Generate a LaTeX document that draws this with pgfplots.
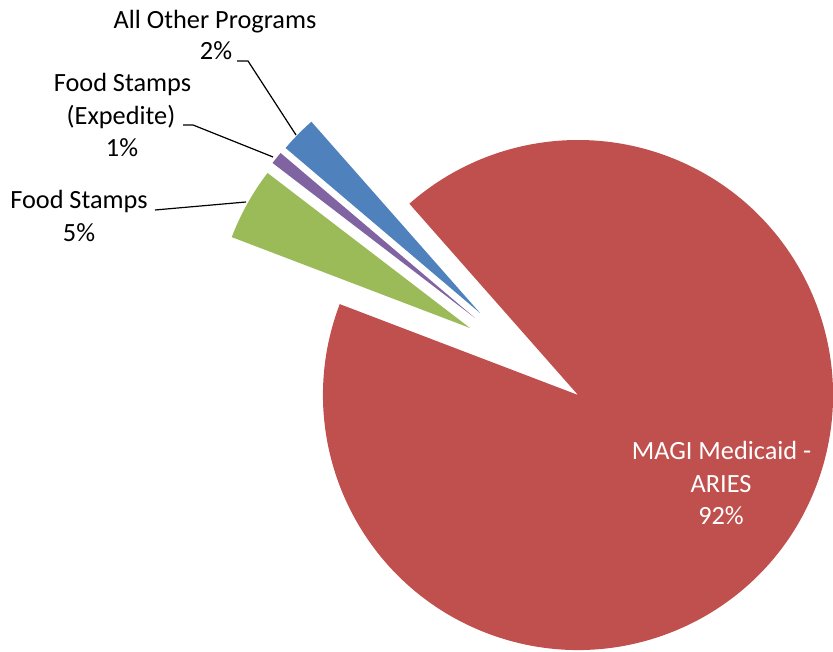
\documentclass[border=0pt]{standalone}
\usepackage{pgfplots}
\pgfplotsset{compat=1.18}
\usepackage{pgfplotstable}
\usepackage{fontspec}
\setmainfont{Carlito}

\definecolor{cRed}{HTML}{C0504D}
\definecolor{cGreen}{HTML}{9BBB59}
\definecolor{cPurple}{HTML}{8064A2}
\definecolor{cBlue}{HTML}{4F81BD}

% slices, counterclockwise from the start angle; tip = exploded centre (px coords, y up)
\pgfplotstableread{
name   value tipx tipy
blue   2.3   480  339
purple 0.8   475  334
green  4.6   470  324
red    92.3  578  257
}\slices

\def\startangle{131.4}
\def\rad{255}

% extract values into global macros
\pgfplotstablegetelem{0}{value}\of\slices \let\vA\pgfplotsretval%
\pgfplotstablegetelem{1}{value}\of\slices \let\vB\pgfplotsretval%
\pgfplotstablegetelem{2}{value}\of\slices \let\vC\pgfplotsretval%
\pgfplotstablegetelem{3}{value}\of\slices \let\vD\pgfplotsretval%
\pgfplotstablegetelem{0}{tipx}\of\slices \let\xA\pgfplotsretval%
\pgfplotstablegetelem{1}{tipx}\of\slices \let\xB\pgfplotsretval%
\pgfplotstablegetelem{2}{tipx}\of\slices \let\xC\pgfplotsretval%
\pgfplotstablegetelem{3}{tipx}\of\slices \let\xD\pgfplotsretval%
\pgfplotstablegetelem{0}{tipy}\of\slices \let\yA\pgfplotsretval%
\pgfplotstablegetelem{1}{tipy}\of\slices \let\yB\pgfplotsretval%
\pgfplotstablegetelem{2}{tipy}\of\slices \let\yC\pgfplotsretval%
\pgfplotstablegetelem{3}{tipy}\of\slices \let\yD\pgfplotsretval%
\pgfmathsetmacro{\aA}{\startangle}%
\pgfmathsetmacro{\aB}{\aA+3.6*\vA}%
\pgfmathsetmacro{\aC}{\aB+3.6*\vB}%
\pgfmathsetmacro{\aD}{\aC+3.6*\vC}%
\pgfmathsetmacro{\aE}{\aD+3.6*\vD}%

\begin{document}%
\begin{tikzpicture}[
  lbl/.style={anchor=base, inner sep=0pt, font=\fontsize{26.3bp}{32bp}\selectfont},
]
\begin{axis}[
  width=833bp, height=652bp, scale only axis,
  xmin=0, xmax=833, ymin=0, ymax=652,
  enlargelimits=false,
  hide axis,
]
\coordinate (BL) at (axis cs:0,0);
\coordinate (TR) at (axis cs:833,652);
% slices
\fill[cBlue]   (axis cs:\xA,\yA) -- ++(\aA:\rad bp) arc[start angle=\aA, end angle=\aB, radius=\rad bp] -- cycle;
\fill[cPurple] (axis cs:\xB,\yB) -- ++(\aB:\rad bp) arc[start angle=\aB, end angle=\aC, radius=\rad bp] -- cycle;
\fill[cGreen]  (axis cs:\xC,\yC) -- ++(\aC:\rad bp) arc[start angle=\aC, end angle=\aD, radius=\rad bp] -- cycle;
\fill[cRed]    (axis cs:\xD,\yD) -- ++(\aD:\rad bp) arc[start angle=\aD, end angle=\aE, radius=\rad bp] -- cycle;
% leader lines
\draw[black, line width=1.2bp] (axis cs:237,591) -- (axis cs:248,591) -- (axis cs:296,517);
\draw[black, line width=1.2bp] (axis cs:183,527) -- (axis cs:193,527) -- (axis cs:273,495);
\draw[black, line width=1.2bp] (axis cs:155,442) -- (axis cs:246,450);
% labels
\node[lbl] at (axis cs:215,623.7) {All Other Programs};
\node[lbl] at (axis cs:216,592) {2\%};
\node[lbl] at (axis cs:122.5,560) {Food Stamps};
\node[lbl] at (axis cs:121,527.5) {(Expedite)};
\node[lbl] at (axis cs:122,495) {1\%};
\node[lbl] at (axis cs:79,443) {Food Stamps};
\node[lbl] at (axis cs:79,410.5) {5\%};
\node[lbl, text=white] at (axis cs:721.5,192.7) {MAGI Medicaid -};
\node[lbl, text=white] at (axis cs:721,159.7) {ARIES};
\node[lbl, text=white] at (axis cs:721,127) {92\%};
\end{axis}
\pgfresetboundingbox
\useasboundingbox (BL) rectangle (TR);
\end{tikzpicture}%
\end{document}
